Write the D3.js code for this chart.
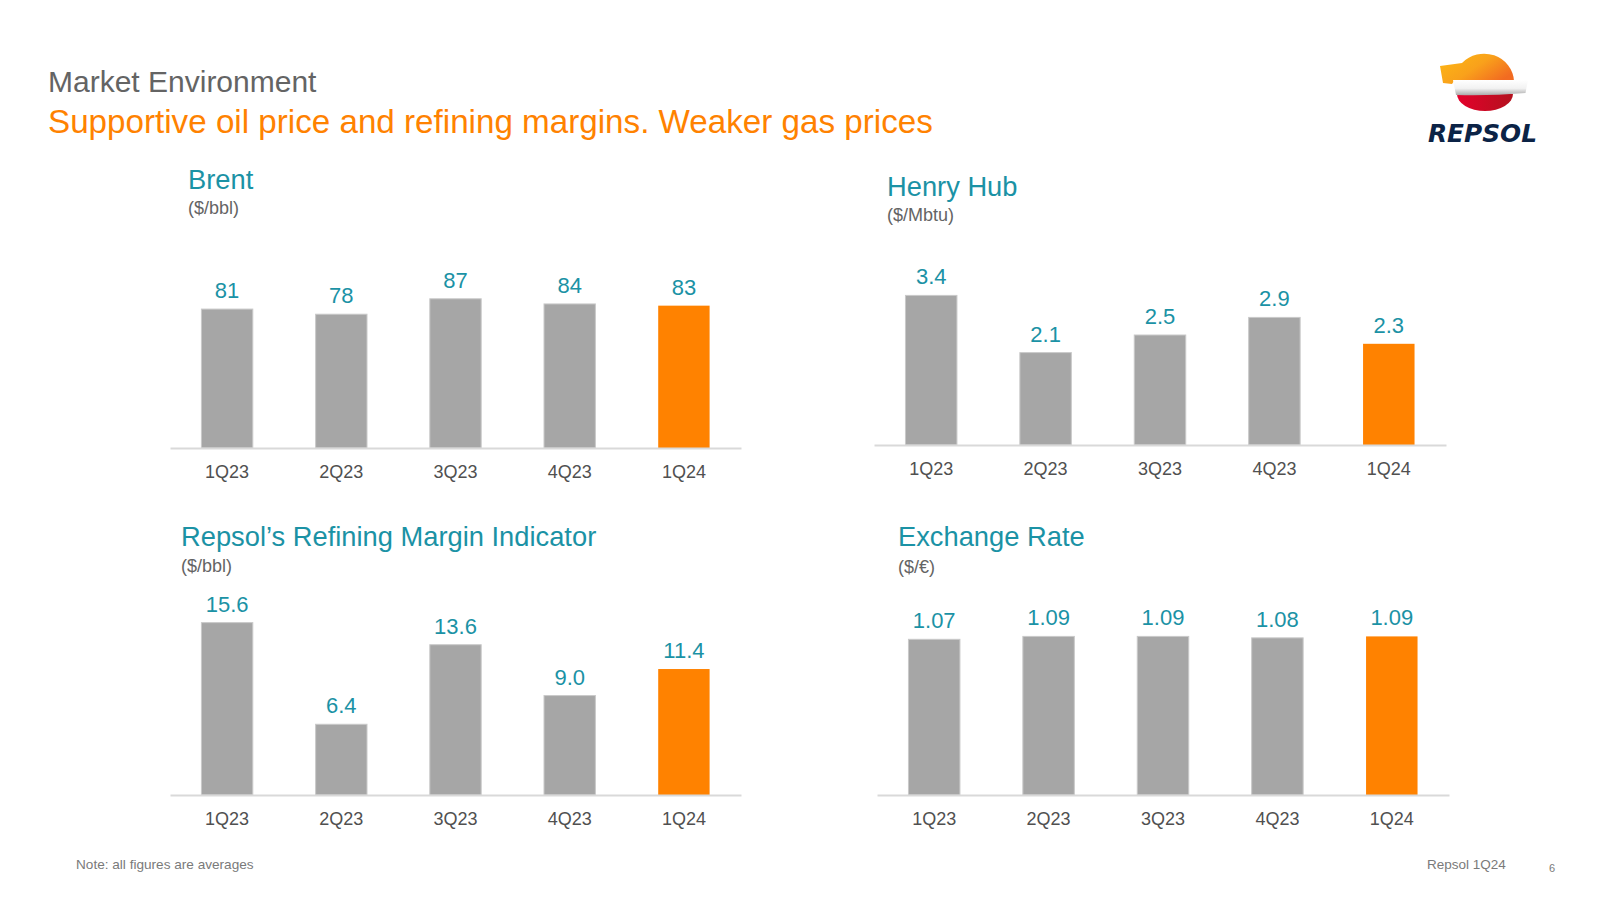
<!DOCTYPE html>
<html>
<head>
<meta charset="utf-8">
<script src="https://cdn.jsdelivr.net/npm/d3@7"></script>
<style>
  html, body { margin: 0; padding: 0; background: #ffffff; }
  svg { display: block; font-family: "Liberation Sans", Arial, Helvetica, sans-serif; }
</style>
</head>
<body>
<svg id="chart" width="1600" height="900"></svg>
<script>
// ---------- DATA ----------
const categories = ["1Q23", "2Q23", "3Q23", "4Q23", "1Q24"];
const highlightCategory = "1Q24";
const brentValues = [81, 78, 87, 84, 83];
const henryHubValues = [3.4, 2.1, 2.5, 2.9, 2.3];
const refiningValues = [15.6, 6.4, 13.6, 9.0, 11.4];
const exchangeValues = [1.07, 1.09, 1.09, 1.08, 1.09];

const pageTitle = "Market Environment";
const pageSubtitle = "Supportive oil price and refining margins. Weaker gas prices";
const footNote = "Note: all figures are averages";
const footBrand = "Repsol 1Q24";
const pageNumber = "6";

const panelTitles = ["Brent", "Henry Hub", "Repsol\u2019s Refining Margin Indicator", "Exchange Rate"];
const panelUnits = ["($/bbl)", "($/Mbtu)", "($/bbl)", "($/\u20AC)"];
const panelFormats = [",.0f", ".1f", ".1f", ".2f"];
const panelValues = [brentValues, henryHubValues, refiningValues, exchangeValues];

// ---------- LAYOUT / STYLE ----------
const COLORS = {
  bar: "#A6A6A6", barStroke: "#C9C9C9", highlight: "#FF8200",
  teal: "#1B92A5", axis: "#D9D9D9", tick: "#505050",
  grayTitle: "#646464", orange: "#FF8200", foot: "#7A7A7A"
};
const layouts = [
  { x0: 170, x1: 741, base: 448, yMax: 100, titleX: 188, titleY: 189, unitY: 214 },
  { x0: 874, x1: 1446, base: 445, yMax: 4, titleX: 887, titleY: 196, unitY: 221 },
  { x0: 170, x1: 741, base: 795, yMax: 20, titleX: 181, titleY: 546, unitY: 572 },
  { x0: 877, x1: 1449, base: 795, yMax: 1.2, titleX: 898, titleY: 546, unitY: 573 }
];
const pxPerDomain = [171.5, 176, 221, 174.6]; // plot height for domain [0, yMax]

const svg = d3.select("#chart");

// Header
svg.append("text").attr("x", 48).attr("y", 92)
  .attr("font-size", 30).attr("fill", COLORS.grayTitle).text(pageTitle);
svg.append("text").attr("x", 48).attr("y", 133)
  .attr("font-size", 33.2).attr("fill", COLORS.orange).text(pageSubtitle);

// Panels
panelValues.forEach((vals, i) => {
  const L = layouts[i];
  const data = categories.map((c, j) => ({ cat: c, value: vals[j] }));
  const g = svg.append("g");

  const x = d3.scaleBand().domain(categories).range([L.x0, L.x1])
    .paddingInner(0.55).paddingOuter(0.275);
  const y = d3.scaleLinear().domain([0, L.yMax]).range([L.base, L.base - pxPerDomain[i]]);
  const fmt = d3.format(panelFormats[i]);

  g.append("text").attr("x", L.titleX).attr("y", L.titleY)
    .attr("font-size", 27.3).attr("fill", COLORS.teal).text(panelTitles[i]);
  g.append("text").attr("x", L.titleX).attr("y", L.unitY)
    .attr("font-size", 18).attr("fill", COLORS.grayTitle).text(panelUnits[i]);

  g.selectAll("rect.bar").data(data).join("rect")
    .attr("class", "bar")
    .attr("x", d => x(d.cat))
    .attr("width", x.bandwidth())
    .attr("y", d => y(d.value))
    .attr("height", d => y(0) - y(d.value))
    .attr("fill", d => d.cat === highlightCategory ? COLORS.highlight : COLORS.bar)
    .attr("stroke", d => d.cat === highlightCategory ? "none" : COLORS.barStroke)
    .attr("stroke-width", 1);

  g.selectAll("text.val").data(data).join("text")
    .attr("class", "val")
    .attr("x", d => x(d.cat) + x.bandwidth() / 2)
    .attr("y", d => y(d.value) - 11)
    .attr("text-anchor", "middle")
    .attr("font-size", 22)
    .attr("fill", COLORS.teal)
    .text(d => fmt(d.value));

  const axis = g.append("g").attr("transform", `translate(0,${L.base})`)
    .call(d3.axisBottom(x).tickSize(0).tickSizeOuter(0).tickPadding(17));
  axis.select(".domain").attr("stroke", COLORS.axis).attr("stroke-width", 2);
  axis.selectAll(".tick text").attr("font-size", 18).attr("fill", COLORS.tick)
    .attr("font-family", "'Liberation Sans', Arial, sans-serif");
});

// Footer
svg.append("text").attr("x", 76).attr("y", 869).attr("font-size", 13.6)
  .attr("fill", COLORS.foot).text(footNote);
svg.append("text").attr("x", 1427).attr("y", 869).attr("font-size", 13.5)
  .attr("fill", COLORS.foot).text(footBrand);
svg.append("text").attr("x", 1549).attr("y", 872).attr("font-size", 11)
  .attr("fill", COLORS.foot).text(pageNumber);

// Logo
const defs = svg.append("defs");
const og = defs.append("linearGradient").attr("id", "logoOrange")
  .attr("x1", "0%").attr("y1", "0%").attr("x2", "100%").attr("y2", "60%");
og.append("stop").attr("offset", "0%").attr("stop-color", "#FDB913");
og.append("stop").attr("offset", "55%").attr("stop-color", "#F9A11B");
og.append("stop").attr("offset", "100%").attr("stop-color", "#F26B21");
const rg = defs.append("linearGradient").attr("id", "logoRed")
  .attr("x1", "0%").attr("y1", "0%").attr("x2", "100%").attr("y2", "0%");
rg.append("stop").attr("offset", "0%").attr("stop-color", "#E4002B");
rg.append("stop").attr("offset", "100%").attr("stop-color", "#B3121E");
const wg = defs.append("linearGradient").attr("id", "logoBand")
  .attr("x1", "0%").attr("y1", "0%").attr("x2", "0%").attr("y2", "100%");
wg.append("stop").attr("offset", "0%").attr("stop-color", "#FFFFFF");
wg.append("stop").attr("offset", "55%").attr("stop-color", "#F2F2F2");
wg.append("stop").attr("offset", "100%").attr("stop-color", "#A9A9A9");

const logo = svg.append("g");
logo.append("path")
  .attr("d", "M1440,66 L1462,63 A30,29 0 0,1 1514,81 L1454,81 L1452,84 L1443,83 Z")
  .attr("fill", "url(#logoOrange)");
logo.append("path")
  .attr("d", "M1457,94 A28,17 0 0,0 1513,94 Z")
  .attr("fill", "url(#logoRed)");
logo.append("path")
  .attr("d", "M1453,80 L1528,80 L1525.5,93 Q1490,96 1456,95 Z")
  .attr("fill", "url(#logoBand)");
logo.append("text").attr("x", 1428).attr("y", 142)
  .attr("font-size", 24).attr("font-weight", "bold").attr("font-style", "italic")
  .attr("font-family", "'DejaVu Sans', 'Liberation Sans', sans-serif")
  .attr("fill", "#0B2346").attr("textLength", 109).attr("lengthAdjust", "spacingAndGlyphs")
  .text("REPSOL");
</script>
</body>
</html>
